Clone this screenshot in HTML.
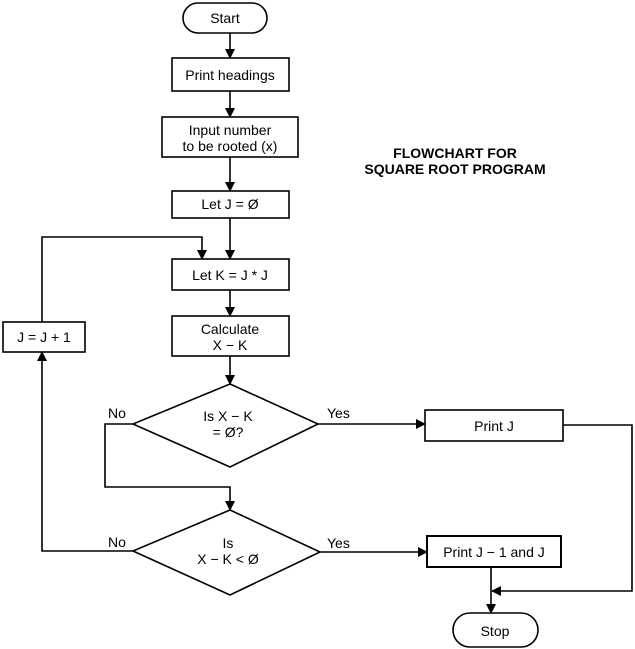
<!DOCTYPE html>
<html><head><style>body{margin:0;background:#fff}svg{display:block}text{font-family:"Liberation Sans",sans-serif;font-size:14px;fill:#000}</style></head><body>
<svg width="635" height="649" viewBox="0 0 635 649" xmlns="http://www.w3.org/2000/svg">
<defs><marker id="a" markerWidth="10" markerHeight="10" refX="9" refY="5" orient="auto" markerUnits="userSpaceOnUse"><path d="M0,0 L10,5 L0,10 z" fill="#000"/></marker></defs>
<g fill="none" stroke="#000" stroke-width="1.6">
<rect x="183" y="3" width="84" height="30" rx="15"/>
<rect x="172" y="58" width="117" height="33"/>
<rect x="162" y="117" width="136" height="40"/>
<rect x="172" y="191" width="117" height="27"/>
<rect x="172" y="259" width="117" height="31"/>
<rect x="172" y="316" width="117" height="40"/>
<rect x="3" y="322" width="82" height="30"/>
<polygon points="230,384 318,424 230,467 133,424"/>
<polygon points="230,510 320,552 230,595 133,551"/>
<rect x="425" y="410" width="138" height="31"/>
<rect x="427" y="536" width="134" height="31" stroke-width="2"/>
<rect x="453" y="613" width="85" height="34" rx="17"/>
<g marker-end="url(#a)">
<line x1="230" y1="33" x2="230" y2="58"/>
<line x1="230" y1="91" x2="230" y2="117"/>
<line x1="230" y1="157" x2="230" y2="191"/>
<line x1="230" y1="218" x2="230" y2="259"/>
<line x1="230" y1="290" x2="230" y2="316"/>
<line x1="230" y1="356" x2="230" y2="384"/>
<polyline points="42,322 42,237 202,237 202,259"/>
<polyline points="133,551 42,551 42,352"/>
<polyline points="133,424 105,424 105,487 230,487 230,510"/>
<line x1="318" y1="424" x2="425" y2="424"/>
<line x1="320" y1="552" x2="427" y2="552"/>
<polyline points="563,425 632,425 632,591 492,591"/>
<line x1="491" y1="567" x2="491" y2="613"/>
</g></g>
<g text-anchor="middle">
<text x="225" y="23">Start</text>
<text x="230" y="80">Print headings</text>
<text x="230" y="135">Input number</text>
<text x="230" y="151">to be rooted (x)</text>
<text x="230" y="209">Let J = Ø</text>
<text x="230" y="280">Let K = J * J</text>
<text x="230" y="334">Calculate</text>
<text x="230" y="350">X − K</text>
<text x="44" y="342">J = J + 1</text>
<text x="228" y="421">Is X − K</text>
<text x="228" y="437">= Ø?</text>
<text x="228" y="548">Is</text>
<text x="228" y="564">X − K &lt; Ø</text>
<text x="494" y="431">Print J</text>
<text x="494" y="557">Print J − 1 and J</text>
<text x="495" y="636">Stop</text>
<text x="455" y="158" font-weight="bold">FLOWCHART FOR</text>
<text x="455" y="174" font-weight="bold">SQUARE ROOT PROGRAM</text>
</g>
<text x="108" y="418">No</text>
<text x="108" y="547">No</text>
<text x="327" y="418">Yes</text>
<text x="327" y="548">Yes</text>
</svg>
</body></html>
